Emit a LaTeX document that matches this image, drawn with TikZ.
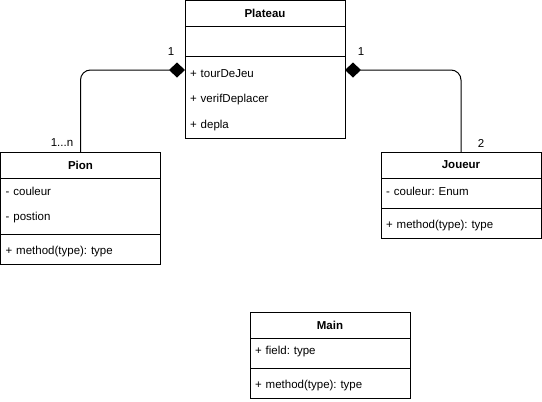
\documentclass[tikz,border=0pt]{standalone}
\usepackage{fontspec}
\setmainfont{Liberation Sans}
\usetikzlibrary{arrows.meta}
\frenchspacing
\begin{document}
\begin{tikzpicture}[x=1pt,y=-1pt,
  box/.style={draw, line width=1pt, minimum width=160pt, anchor=north west, inner sep=0pt, outer sep=0pt},
  hdr/.style={box, minimum height=26pt, font=\fontsize{11.5}{13}\selectfont\bfseries},
  row/.style={anchor=north west, minimum width=160pt, minimum height=26pt, text width=150pt, inner xsep=5pt, inner ysep=0pt, align=left, font=\fontsize{11.5}{13}\selectfont},
  lbl/.style={font=\fontsize{11.5}{13}\selectfont, inner sep=0pt},
  comp/.style={line width=1pt, -{Diamond[length=16pt,width=15pt]}, rounded corners=10pt}
]
\useasboundingbox (0,0) rectangle (542,402);

% Plateau
\node[hdr] (plateau) at (185,0.5) {Plateau};
\node[box, minimum height=30pt] (plateauAttr) at (185,26.5) {};
\node[box, minimum height=82pt] (plateauOps) at (185,56.5) {};
\node[row] (tour) at (185,60.5) {+ tourDeJeu};
\node[row] (verif) at (185,86.5) {+ verifDeplacer};
\node[row] (depla) at (185,112.5) {+ depla};

% Pion
\node[hdr] (pion) at (0.5,152) {Pion};
\node[box, minimum height=56pt] (pionAttr) at (0.5,178) {};
\node[box, minimum height=30pt] (pionOps) at (0.5,234) {};
\node[row] (pcoul) at (0.5,178.5) {- couleur};
\node[row] (ppos) at (0.5,204.5) {- postion};
\node[row] (pmeth) at (0.5,238.5) {+ method(type): type};

% Joueur
\node[hdr] (joueur) at (381,152) {Joueur};
\node[box, minimum height=30pt] (joueurAttr) at (381,178) {};
\node[box, minimum height=30pt] (joueurOps) at (381,208) {};
\node[row] (jcoul) at (381,178.5) {- couleur: Enum};
\node[row] (jmeth) at (381,212.5) {+ method(type): type};

% Main
\node[hdr] (main) at (250,312) {Main};
\node[box, minimum height=30pt] (mainAttr) at (250,338) {};
\node[box, minimum height=30pt] (mainOps) at (250,368) {};
\node[row] (mfield) at (250,338.5) {+ field: type};
\node[row] (mmeth) at (250,372.5) {+ method(type): type};

% connectors
\draw[comp] (pion.north) |- ([yshift=-13.5pt]plateauOps.north west);
\draw[comp] (joueur.north) |- ([yshift=-13.5pt]plateauOps.north east);

% multiplicities
\node[lbl] (m1) at (171,52) {1};
\node[lbl] (m2) at (361,52) {1};
\node[lbl] (m3) at (62,143) {1...n};
\node[lbl] (m4) at (481,143) {2};
\end{tikzpicture}
\end{document}
